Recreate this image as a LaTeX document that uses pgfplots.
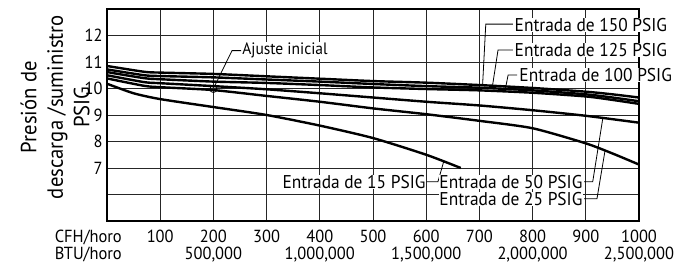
\documentclass[border=0pt]{standalone}
\usepackage{fontspec}
\setmainfont{PT Sans}[FakeStretch=0.94]
\usepackage{pgfplots}
\pgfplotsset{compat=1.18}

\begin{document}
\begin{tikzpicture}
\useasboundingbox (-107pt,-44pt) rectangle (574pt,221pt);
\begin{axis}[
  at={(0pt,0pt)}, anchor=south west,
  scale only axis, width=532pt, height=212pt,
  xmin=0, xmax=1000, ymin=5, ymax=13,
  xtick={100,200,...,1000},
  xticklabels={100,200,300,400,500,600,700,800,900,1000},
  ytick={6,7,...,12},
  yticklabels={,7,8,9,10,11,12},
  extra x ticks={200,400,600,800,1000},
  extra x tick labels={{500,000},{1,000,000},{1,500,000},{2,000,000},{2,500,000}},
  extra x tick style={grid=none, xticklabel style={yshift=-17.5pt}},
  major tick length=0pt,
  grid=major,
  major grid style={black!85, line width=0.9pt},
  axis line style={line width=1.2pt},
  tick label style={font=\fontsize{17.5}{17.5}\selectfont},
  xticklabel style={anchor=base, yshift=-21.5pt},
  yticklabel style={xshift=-1pt},
  clip=false,
  curve/.style={black, line width=2.4pt, smooth, tension=0.4, mark=none},
]
% 150 PSIG
\addplot[curve] coordinates {(0,10.85) (70,10.63) (100,10.60) (200,10.55) (300,10.46) (400,10.37) (500,10.28) (600,10.22) (700,10.13) (800,10.02) (900,9.88) (950,9.78) (1000,9.66)};
% 125 PSIG
\addplot[curve] coordinates {(0,10.72) (70,10.50) (100,10.47) (200,10.42) (300,10.34) (400,10.26) (500,10.17) (600,10.09) (700,10.03) (800,9.93) (900,9.78) (950,9.66) (1000,9.52)};
% 100 PSIG
\addplot[curve] coordinates {(0,10.62) (70,10.39) (100,10.35) (200,10.26) (300,10.21) (400,10.13) (500,10.04) (600,9.98) (700,9.93) (800,9.84) (900,9.70) (950,9.57) (1000,9.42)};
% 50 PSIG
\addplot[curve] coordinates {(0,10.50) (70,10.24) (100,10.20) (200,10.09) (300,9.97) (400,9.82) (500,9.66) (600,9.50) (700,9.36) (800,9.18) (900,8.97) (1000,8.71)};
% 25 PSIG
\addplot[curve] coordinates {(0,10.38) (70,10.10) (100,10.05) (200,9.94) (300,9.72) (400,9.50) (500,9.25) (600,9.03) (700,8.78) (800,8.50) (900,7.93) (950,7.55) (1000,7.13)};
% 15 PSIG
\addplot[curve] coordinates {(0,10.18) (50,9.82) (100,9.60) (200,9.30) (300,9.00) (400,8.60) (500,8.13) (600,7.50) (665,7.00)};
% Ajuste inicial
\addplot[only marks, mark=o, mark size=3.5pt, line width=0.8pt, black, mark options={fill=none}] coordinates {(200,9.98)};

% leaders
\draw[line width=0.8pt] (axis cs:763,12.43) -- (axis cs:712,12.43) -- (axis cs:706,10.13);
\draw[line width=0.8pt] (axis cs:763,11.45) -- (axis cs:735,11.45) -- (axis cs:724,10.02);
\draw[line width=0.8pt] (axis cs:771,10.51) -- (axis cs:754,10.51) -- (axis cs:748,9.90);
\draw[line width=0.8pt] (axis cs:252,11.43) -- (axis cs:235,11.43) -- (axis cs:203,10.12);
\draw[line width=0.8pt] (axis cs:601,6.48) -- (axis cs:622,6.48) -- (axis cs:633,7.25);
\draw[line width=0.8pt] (axis cs:897,6.48) -- (axis cs:913,6.48) -- (axis cs:932,8.88);
\draw[line width=0.8pt] (axis cs:897,5.84) -- (axis cs:921,5.84) -- (axis cs:936,7.64);

% labels
\begin{scope}[every node/.style={fill=white, inner sep=0.5pt, font=\fontsize{18.5}{18.5}\selectfont}]
\node[anchor=west] at (axis cs:765,12.40) {Entrada de 150 PSIG};
\node[anchor=west] at (axis cs:765,11.45) {Entrada de 125 PSIG};
\node[anchor=west] at (axis cs:774,10.51) {Entrada de 100 PSIG};
\node[anchor=east] at (axis cs:600,6.48) {Entrada de 15 PSIG};
\node[anchor=east] at (axis cs:895,6.48) {Entrada de 50 PSIG};
\node[anchor=east] at (axis cs:895,5.84) {Entrada de 25 PSIG};
\node[anchor=west, font=\fontsize{16.5}{16.5}\selectfont] at (axis cs:253,11.43) {Ajuste inicial};
\end{scope}
\end{axis}
\node[rotate=90, align=center, font=\fontsize{22}{26.5}\selectfont] at (-52pt,114pt) {Presión de\\descarga /suministro\\PSIG};
\node[anchor=base east, inner sep=0pt, font=\fontsize{17.5}{17.5}\selectfont] at (15pt,-21.5pt) {CFH/horo};
\node[anchor=base east, inner sep=0pt, font=\fontsize{17.5}{17.5}\selectfont] at (15pt,-39pt) {BTU/horo};
\end{tikzpicture}
\end{document}
